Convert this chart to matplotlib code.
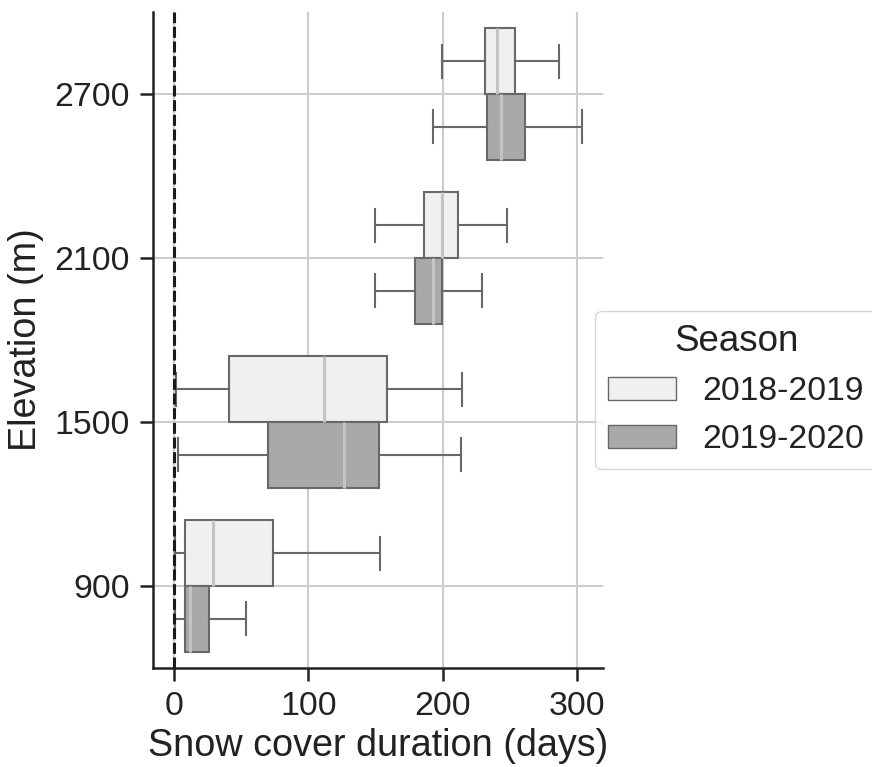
import numpy as np
import matplotlib.pyplot as plt
from matplotlib.patches import Patch

plt.rcParams["font.family"] = ["Liberation Sans", "DejaVu Sans"]

elevations = ["900", "1500", "2100", "2700"]
seasons = ["2018-2019", "2019-2020"]

# five-number summaries, one entry per elevation
whislo_1819 = [0.5, 1.5, 149.7, 199.8]
q1_1819 = [8.0, 41.0, 186.4, 231.6]
med_1819 = [29.0, 111.4, 199.6, 240.8]
q3_1819 = [73.5, 158.6, 211.7, 253.9]
whishi_1819 = [153.4, 214.4, 247.7, 286.9]

whislo_1920 = [0.5, 3.0, 149.7, 192.6]
q1_1920 = [8.0, 70.2, 179.5, 232.8]
med_1920 = [12.0, 126.3, 192.6, 243.7]
q3_1920 = [26.3, 152.6, 199.8, 261.4]
whishi_1920 = [53.4, 213.7, 229.6, 303.8]

colors = ["#f0f0f0", "#a9a9a9"]
edge = "#686868"


def make_stats(lo, q1, med, q3, hi):
    return [
        dict(whislo=a, q1=b, med=c, q3=d, whishi=e, fliers=[])
        for a, b, c, d, e in zip(lo, q1, med, q3, hi)
    ]


stats = [
    make_stats(whislo_1819, q1_1819, med_1819, q3_1819, whishi_1819),
    make_stats(whislo_1920, q1_1920, med_1920, q3_1920, whishi_1920),
]

fig = plt.figure(figsize=(8.72, 7.67), dpi=100)
ax = fig.add_axes([0.1755, 0.129, 0.516, 0.8555])

ax.grid(True, color="#cccccc", linewidth=1.5, zorder=0)
ax.set_axisbelow(True)

base = np.arange(len(elevations))
offsets = [0.2, -0.2]
for k in range(2):
    ax.bxp(
        stats[k],
        positions=base + offsets[k],
        widths=0.4,
        vert=False,
        patch_artist=True,
        showfliers=False,
        boxprops=dict(facecolor=colors[k], edgecolor=edge, linewidth=1.5),
        whiskerprops=dict(color=edge, linewidth=1.5),
        capprops=dict(color=edge, linewidth=1.5),
        medianprops=dict(color="#c4c4c4", linewidth=2.2),
        capwidths=0.2,
        manage_ticks=False,
        zorder=3,
    )

ax.axvline(0, color="#1a1a1a", linestyle="--", linewidth=2.2, dashes=(3.6, 1.2), zorder=4)

ax.set_yticks(base)
ax.set_yticklabels(elevations)
ax.set_ylim(-0.5, 3.5)
ax.set_xlim(-15.6, 319.4)
ax.set_xticks([0, 100, 200, 300])

ax.set_xlabel("Snow cover duration (days)", fontsize=27.2, color="#222222", labelpad=4)
ax.set_ylabel("Elevation (m)", fontsize=27.2, color="#222222", labelpad=8)
ax.tick_params(axis="both", labelsize=24.4, colors="#222222", length=9.5, width=1.8, pad=7)

for side in ["top", "right"]:
    ax.spines[side].set_visible(False)
for side in ["left", "bottom"]:
    ax.spines[side].set_linewidth(1.8)
    ax.spines[side].set_color("#222222")

handles = [Patch(facecolor=colors[k], edgecolor=edge, linewidth=1.0, label=seasons[k]) for k in range(2)]
leg = fig.legend(
    handles=handles,
    title="Season",
    loc="upper left",
    bbox_to_anchor=(595 / 872, 1 - 311 / 767),
    bbox_transform=fig.transFigure,
    borderaxespad=0,
    fontsize=24.2,
    title_fontsize=26.5,
    frameon=True,
    edgecolor="#cccccc",
)
for t in leg.get_texts():
    t.set_color("#222222")
leg.get_title().set_color("#222222")

fig.savefig("out.png", dpi=100)
